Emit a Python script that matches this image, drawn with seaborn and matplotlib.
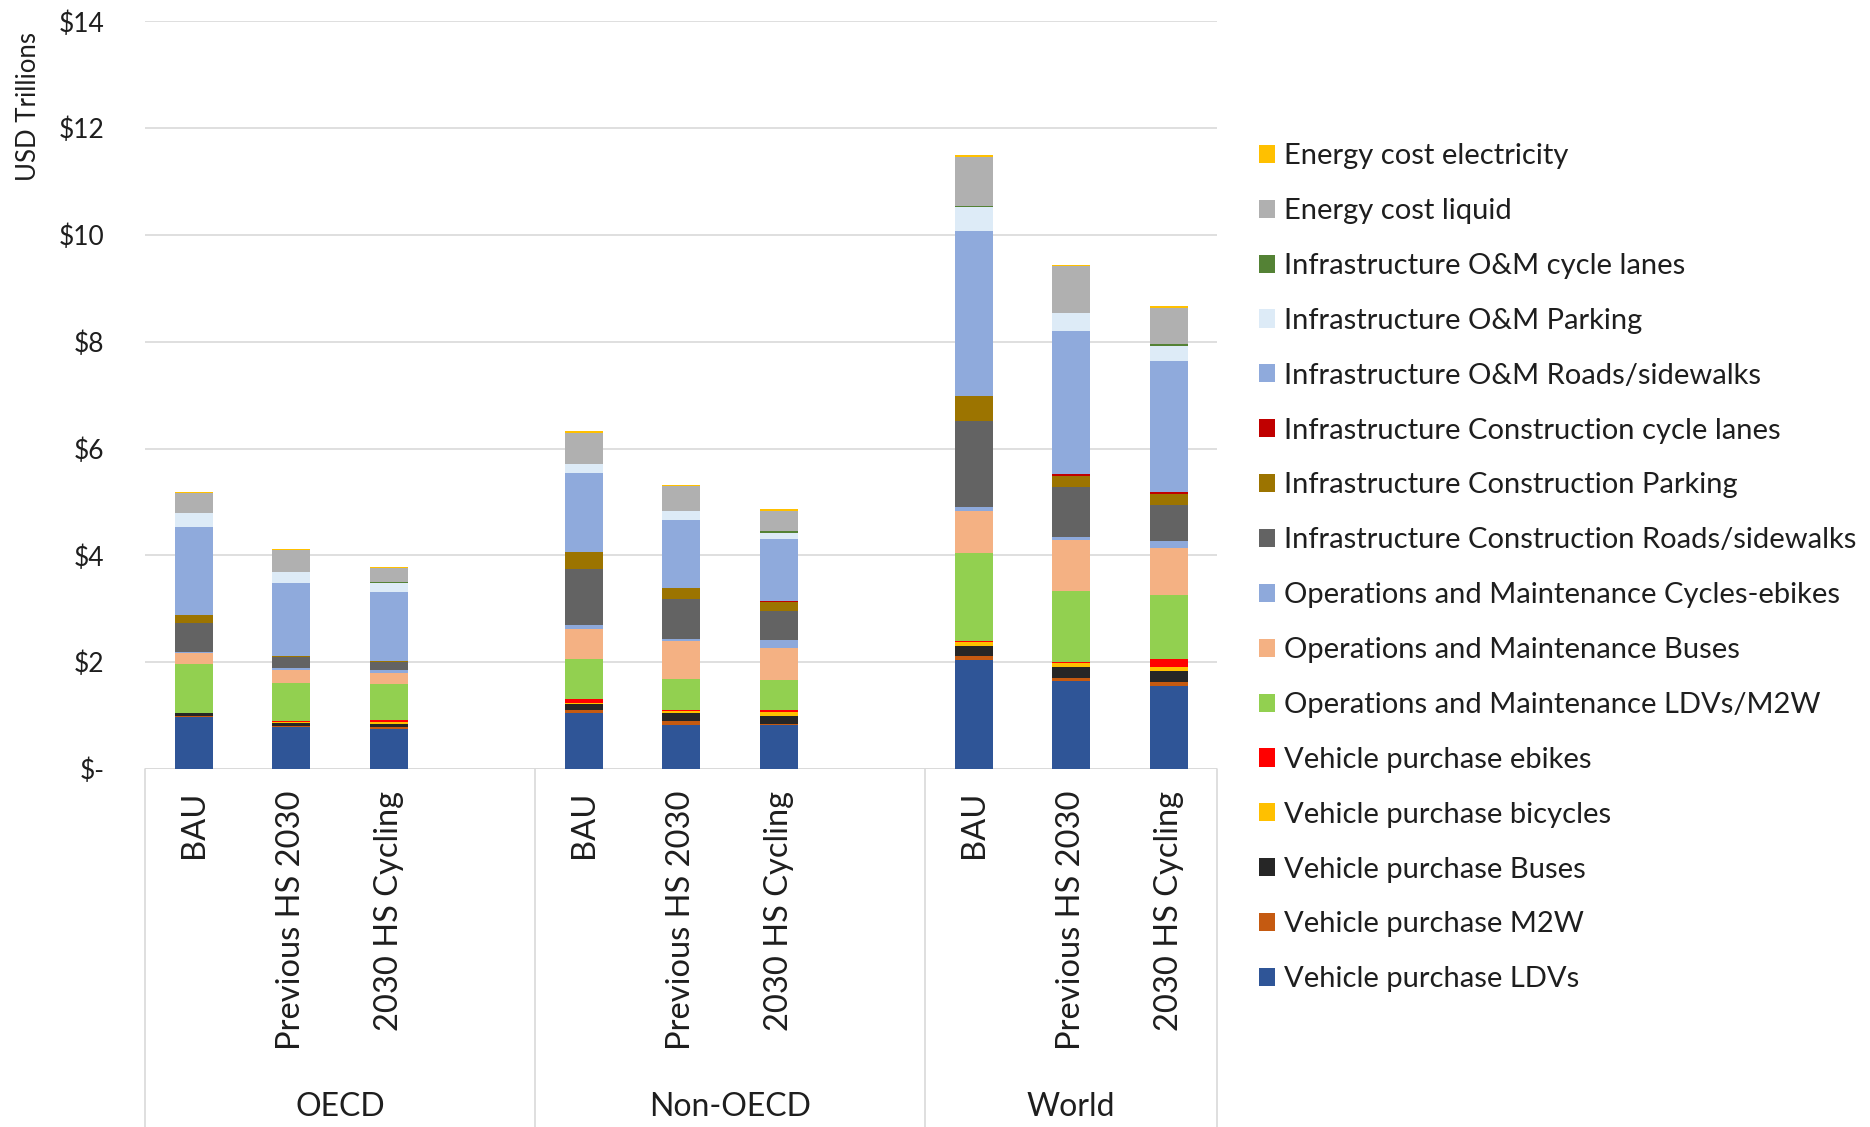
import numpy as np
import pandas as pd
import matplotlib
matplotlib.use("Agg")
import matplotlib.pyplot as plt
import matplotlib.transforms as mtransforms
from matplotlib.patches import Patch
from matplotlib.lines import Line2D
import seaborn as sns

# ---------------- data ----------------
groups = ["OECD", "Non-OECD", "World"]
scenarios = ["BAU", "Previous HS 2030", "2030 HS Cycling"]
slots = [0, 1, 2, 4, 5, 6, 8, 9, 10]   # category slot of each bar (Excel leaves a blank slot between groups)

# components listed top (legend first) -> bottom
components = [
    "Energy cost electricity",
    "Energy cost liquid",
    "Infrastructure O&M cycle lanes",
    "Infrastructure O&M Parking",
    "Infrastructure O&M Roads/sidewalks",
    "Infrastructure Construction cycle lanes",
    "Infrastructure Construction Parking",
    "Infrastructure Construction Roads/sidewalks",
    "Operations and Maintenance Cycles-ebikes",
    "Operations and Maintenance Buses",
    "Operations and Maintenance LDVs/M2W",
    "Vehicle purchase ebikes",
    "Vehicle purchase bicycles",
    "Vehicle purchase Buses",
    "Vehicle purchase M2W",
    "Vehicle purchase LDVs",
]

# values in USD trillions: OECD(BAU, Prev, Cyc), Non-OECD(...), World(...)
energy_electricity = [0.02, 0.02, 0.02, 0.02, 0.02, 0.02, 0.03, 0.03, 0.03]
energy_liquid      = [0.37, 0.42, 0.27, 0.58, 0.46, 0.39, 0.91, 0.875, 0.68]
infra_om_cycle     = [0.00, 0.00, 0.01, 0.00, 0.00, 0.03, 0.03, 0.01, 0.03]
infra_om_parking   = [0.27, 0.20, 0.18, 0.18, 0.16, 0.11, 0.44, 0.33, 0.29]
infra_om_roads     = [1.64, 1.37, 1.28, 1.48, 1.28, 1.17, 3.09, 2.68, 2.46]
infra_con_cycle    = [0.00, 0.00, 0.01, 0.00, 0.01, 0.01, 0.00, 0.04, 0.04]
infra_con_parking  = [0.16, 0.02, 0.02, 0.31, 0.19, 0.17, 0.47, 0.20, 0.19]
infra_con_roads    = [0.54, 0.20, 0.14, 1.06, 0.75, 0.55, 1.62, 0.93, 0.68]
om_cycles_ebikes   = [0.02, 0.04, 0.06, 0.06, 0.05, 0.14, 0.06, 0.06, 0.14]
om_buses           = [0.20, 0.24, 0.20, 0.58, 0.70, 0.61, 0.80, 0.95, 0.87]
om_ldv_m2w         = [0.92, 0.71, 0.69, 0.74, 0.59, 0.55, 1.64, 1.33, 1.21]
vp_ebikes          = [0.00, 0.02, 0.04, 0.07, 0.02, 0.05, 0.03, 0.02, 0.14]
vp_bicycles        = [0.00, 0.02, 0.03, 0.03, 0.04, 0.07, 0.07, 0.08, 0.08]
vp_buses           = [0.06, 0.05, 0.06, 0.11, 0.15, 0.14, 0.18, 0.20, 0.21]
vp_m2w             = [0.01, 0.03, 0.04, 0.06, 0.06, 0.03, 0.08, 0.07, 0.06]
vp_ldvs            = [0.98, 0.78, 0.74, 1.04, 0.83, 0.82, 2.04, 1.64, 1.56]

series = [energy_electricity, energy_liquid, infra_om_cycle, infra_om_parking,
          infra_om_roads, infra_con_cycle, infra_con_parking, infra_con_roads,
          om_cycles_ebikes, om_buses, om_ldv_m2w, vp_ebikes, vp_bicycles,
          vp_buses, vp_m2w, vp_ldvs]

colors = ["#FFC000", "#B0B0B0", "#548235", "#DDEBF7", "#8FAADC", "#C00000",
          "#9C7400", "#636363", "#8EA9DB", "#F4B183", "#92D050", "#FF0000",
          "#FFC000", "#262626", "#C55A11", "#2F5597"]
palette = dict(zip(components, colors))

y_ticks = [0, 2, 4, 6, 8, 10, 12, 14]
y_ticklabels = ["$-", "$2", "$4", "$6", "$8", "$10", "$12", "$14"]

rows = []
for comp, vals in zip(components, series):
    for s, v in zip(slots, vals):
        rows.append({"slot": s, "component": comp, "value": v})
df = pd.DataFrame(rows)

# ---------------- plot ----------------
sns.set_theme(style="white")
FONT = ["Lato", "DejaVu Sans"]
plt.rcParams["font.family"] = FONT
TXT = "#1E1E1E"

fig = plt.figure(figsize=(18.7, 11.27), dpi=100)
ax = fig.add_axes([0.0775, 0.3177, 0.5735, 0.6633])

sns.histplot(data=df, x="slot", weights="value", hue="component",
             hue_order=components, palette=palette, multiple="stack",
             discrete=True, shrink=0.39, alpha=1, linewidth=0,
             edgecolor="none", legend=False, ax=ax)

ax.set_xlim(-0.5, 10.5)
ax.set_ylim(0, 14)
ax.set_yticks(y_ticks)
ax.set_yticklabels(y_ticklabels, fontsize=19, color=TXT)
ax.tick_params(axis="y", length=0, pad=29)
for lab in ax.get_yticklabels():
    lab.set_horizontalalignment("right")
ax.set_xticks([])
ax.set_xlabel("")
ax.set_ylabel("USD Trillions", fontsize=18.5, color=TXT)
ax.yaxis.set_label_coords(-0.097, 0.886)
ax.grid(axis="y", color="#D9D9D9", linewidth=1.2)
ax.set_axisbelow(True)
for sp in ax.spines.values():
    sp.set_visible(False)
ax.axhline(0, color="#D9D9D9", linewidth=1.2, zorder=0.5)

trans = mtransforms.blended_transform_factory(ax.transData, ax.transAxes)
# category separators
for xs in [-0.5, 3.5, 7.5, 10.5]:
    ax.add_line(Line2D([xs, xs], [0, -0.48], transform=trans, color="#D9D9D9",
                       linewidth=1.2, clip_on=False))
# scenario labels
for i, s in enumerate(slots):
    ax.text(s, -0.029, scenarios[i % 3], transform=trans, rotation=90,
            ha="center", va="top", fontsize=23.5, color=TXT)
# group labels
for g, c in zip(groups, [1.5, 5.5, 9.0]):
    ax.text(c, -0.452, g, transform=trans, ha="center", va="center",
            fontsize=23, color=TXT)

handles = [Patch(facecolor=palette[c], edgecolor="none") for c in components]
fig.legend(handles, components, loc="upper left", bbox_to_anchor=(0.673, 0.873),
           frameon=False, fontsize=21, labelcolor=TXT, handlelength=0.58,
           handleheight=0.58, handletextpad=0.28, labelspacing=0.99, borderpad=0,
           borderaxespad=0)

fig.savefig("out.png", dpi=100)
